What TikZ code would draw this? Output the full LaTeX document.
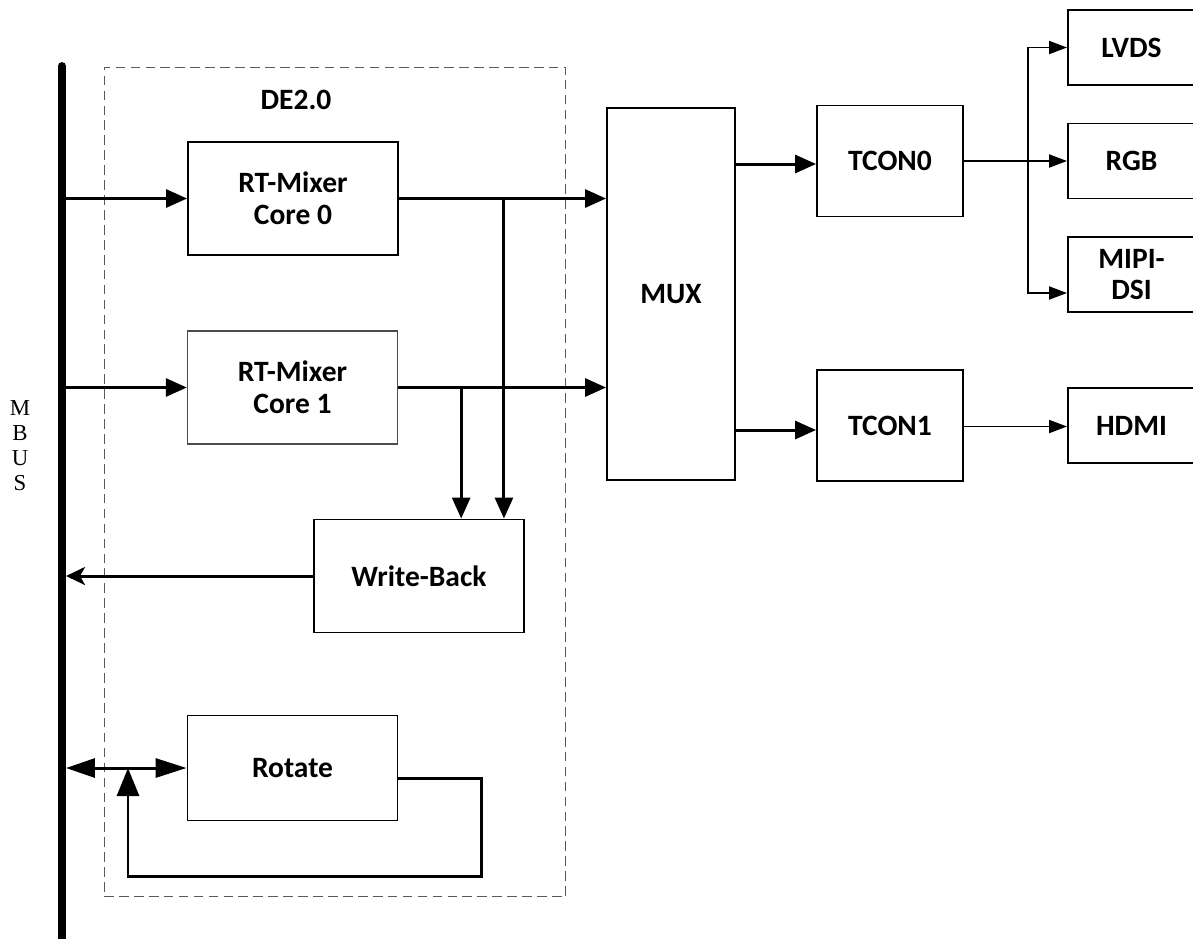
\documentclass[tikz,border=0pt]{standalone}
\usepackage{fontspec}
\setmainfont{Carlito}
\newfontfamily\busfont{Liberation Serif}
\usetikzlibrary{arrows.meta,calc,positioning}
\tikzset{
  blk/.style={draw, line width=1.1pt, minimum width=4.2cm, minimum height=2.26cm, inner sep=1pt, align=center, font=\fontsize{16.8}{18}\selectfont\bfseries},
  tconb/.style={blk, minimum width=2.92cm, minimum height=2.22cm},
  outb/.style={blk, minimum width=2.54cm, minimum height=1.5cm},
  frame/.style={draw=black!65, line width=0.6pt, dash pattern=on 5.5pt off 3pt, minimum width=9.24cm, minimum height=16.6cm},
  bus/.style={line width=4.5pt, line cap=round},
  arr/.style={line width=1.7pt, -{Triangle[length=0.42cm, width=0.36cm]}},
  tarr/.style={line width=1.1pt, -{Triangle[length=0.36cm, width=0.26cm]}},
  warr/.style={line width=1.7pt, -{Stealth[length=0.38cm, width=0.36cm, inset=0.1cm]}},
  rarr/.style={line width=1.7pt, {Triangle[length=0.58cm, width=0.38cm]}-{Triangle[length=0.62cm, width=0.38cm]}},
  uarr/.style={line width=1.7pt, -{Triangle[length=0.56cm, width=0.44cm]}},
  every picture/.style={line join=miter}
}

\begin{document}
\begin{tikzpicture}[x=0.02cm, y=-0.02cm]
  \useasboundingbox (0,0) rectangle (1193,938);
  % bus and frame
  \draw[bus] (62,66) -- (62,960);
  \coordinate (mbus) at (66,66);
  \node[font=\busfont\fontsize{13}{14.2}\selectfont, align=center, inner sep=0pt] (mbuslbl) at (20,446) {M\\B\\U\\S};
  \node[frame] (de) at (335,482) {};
  \node[font=\fontsize{16.8}{18}\selectfont\bfseries] (detitle) at (296,100) {DE2.0};
  % blocks
  \node[blk] (core0) at (293,198.5) {RT-Mixer\\Core 0};
  \node[blk, draw=black!70, line width=0.8pt] (core1) at (292.5,387.5) {RT-Mixer\\Core 1};
  \node[blk] (wb) at (419,576) {Write-Back};
  \node[blk, minimum height=2.1cm] (rot) at (292.5,768) {Rotate};
  \node[blk, minimum width=2.56cm, minimum height=7.44cm] (mux) at (671,294) {MUX};
  \node[tconb] (tcon0) at (890,161) {TCON0};
  \node[tconb] (tcon1) at (890,425.5) {TCON1};
  \node[outb] (lvds) at (1131.5,47.5) {LVDS};
  \node[outb] (rgb) at (1131.5,161) {RGB};
  \node[outb] (mipi) at (1131.5,274.5) {MIPI-\\DSI};
  \node[outb] (hdmi) at (1131.5,425.5) {HDMI};
  % bus to mixers
  \draw[arr] (mbus |- core0.west) -- (core0.west);
  \draw[arr] (mbus |- core1.west) -- (core1.west);
  % mixers to mux and write-back
  \coordinate (br0) at ($(core0.east)+(105,0)$);
  \coordinate (br1) at ($(core1.east)+(63,0)$);
  \draw[arr] (core0.east) -- (mux.west |- core0.east);
  \draw[arr] (core1.east) -- (mux.west |- core1.east);
  \draw[arr] (br0) -- (br0 |- wb.north);
  \draw[arr] (br1) -- (br1 |- wb.north);
  \draw[warr] (wb.west) -- (mbus |- wb.west);
  % rotate
  \coordinate (loopR) at (481,876);
  \coordinate (loopL) at (128,876);
  \draw[rarr] (mbus |- rot.west) -- (rot.west);
  \draw[uarr] ([yshift=-0.2cm]rot.east) -| (loopR) -- (loopL) -- (loopL |- rot.west);
  % mux to tcon
  \draw[arr] ([yshift=-0.06cm]mux.east |- tcon0.west) -- ([yshift=-0.06cm]tcon0.west);
  \draw[arr] ([yshift=-0.09cm]mux.east |- tcon1.west) -- ([yshift=-0.09cm]tcon1.west);
  % outputs
  \coordinate (fan) at ($(tcon0.east)+(64,0)$);
  \draw[tarr] (tcon0.east) -- (rgb.west);
  \draw[tarr] (fan) |- (lvds.west);
  \draw[tarr] (fan) |- ([yshift=-0.37cm]mipi.west);
  \draw[tarr] ([yshift=-0.02cm]tcon1.east) -- ([yshift=-0.02cm]hdmi.west);
\end{tikzpicture}
\end{document}
